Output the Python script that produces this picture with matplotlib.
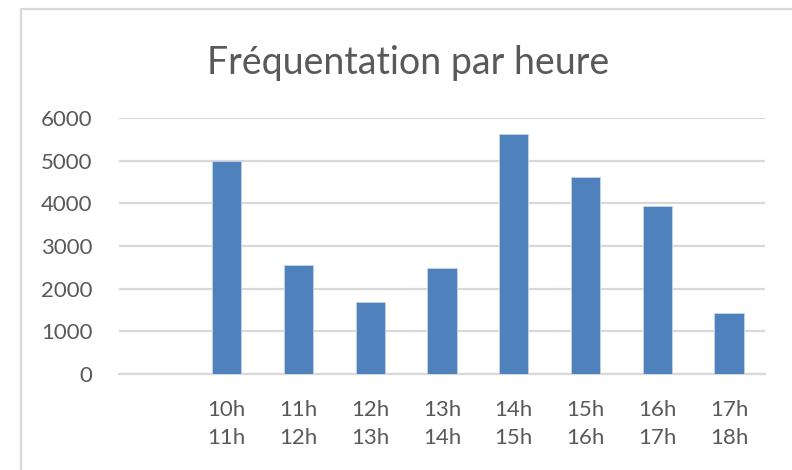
import matplotlib
matplotlib.use("Agg")
import matplotlib.pyplot as plt
from matplotlib.patches import Rectangle

# données
creneaux = ["", "10h\n11h", "11h\n12h", "12h\n13h", "13h\n14h",
            "14h\n15h", "15h\n16h", "16h\n17h", "17h\n18h"]
visiteurs = [0, 5000, 2550, 1680, 2490, 5620, 4620, 3930, 1430]
yticks = [0, 1000, 2000, 3000, 4000, 5000, 6000]
titre = "Fréquentation par heure"

plt.rcParams['font.family'] = ['Lato', 'DejaVu Sans']
gris_txt = '#595959'
gris_grille = '#d9d9d9'
bleu = '#4f81bd'

fig = plt.figure(figsize=(7.92, 4.70), dpi=100)
ax = fig.add_axes([119/792, 1-374/470, (765-119)/792, (374-118)/470])

x = list(range(len(creneaux)))
ax.bar(x, visiteurs, width=0.41, color=bleu, edgecolor='#c5d5ea', linewidth=0.6, zorder=3)

ax.set_xlim(-0.5, len(creneaux) - 0.5)
ax.set_ylim(0, 6000)
ax.set_yticks(yticks)
ax.set_yticklabels([str(v) for v in yticks])
ax.set_xticks(x)
ax.set_xticklabels(creneaux, linespacing=1.45)

ax.grid(axis='y', color=gris_grille, linewidth=1.6, zorder=0)
for s in ['top', 'right', 'left']:
    ax.spines[s].set_visible(False)
ax.spines['bottom'].set_color(gris_grille)
ax.spines['bottom'].set_linewidth(1.6)
ax.tick_params(axis='both', length=0, labelsize=16, colors=gris_txt)
ax.tick_params(axis='y', pad=19)
ax.tick_params(axis='x', pad=19)

fig.text(408/792, 1-63/470, titre, ha='center', va='center',
         fontsize=27, color=gris_txt)

# cadre du graphique (coupé à droite et en bas)
cadre = Rectangle((21/792, -0.1), 1.2, 1.1 - 9/470, transform=fig.transFigure,
                  fill=False, edgecolor=gris_grille, linewidth=1.6)
fig.patches.append(cadre)

plt.savefig("out.png", dpi=100)
